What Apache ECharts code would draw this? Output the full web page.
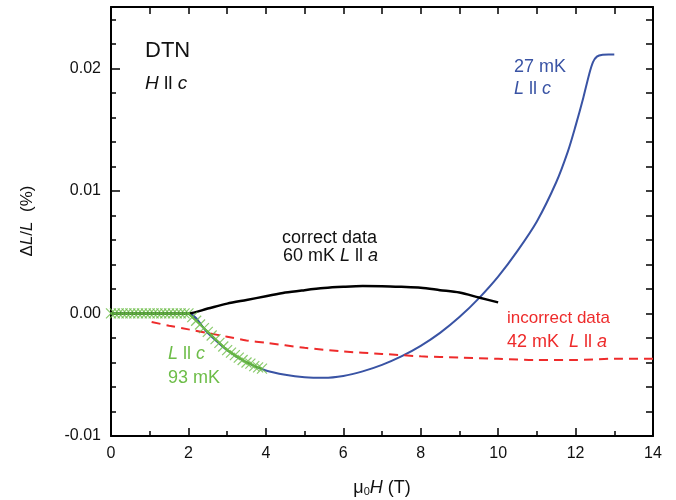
<!DOCTYPE html>
<html>
<head>
<meta charset="utf-8">
<script src="https://cdn.jsdelivr.net/npm/echarts@6/dist/echarts.min.js"></script>
<style>
  html, body { margin: 0; padding: 0; background: #fff; }
  #chart { width: 676px; height: 500px; }
</style>
</head>
<body>
<div id="chart"></div>
<script>
// values (field in T, dL/L in %)
const blueH  = [0, 1, 2, 2.5, 3, 3.5, 4, 4.5, 5, 5.5, 6, 6.5, 7, 7.5, 8, 8.5, 9, 9.5, 10, 10.5, 11, 11.5, 11.8, 12, 12.2, 12.35, 12.45, 12.55, 12.7, 12.85, 13];
const blueDL = [0, 0, 0, -0.0016, -0.0030, -0.0040, -0.00465, -0.0050, -0.0052, -0.00525, -0.0051, -0.00473, -0.0042, -0.00351, -0.00265, -0.00159, -0.0003, 0.00123, 0.0030, 0.0051, 0.0075, 0.0107, 0.0132, 0.0153, 0.0176, 0.0195, 0.0205, 0.02095, 0.0211, 0.02112, 0.02112];

const blackH  = [0, 1, 2, 2.5, 3, 3.5, 4, 4.5, 5, 5.5, 6, 6.5, 7, 7.5, 8, 8.5, 9, 9.5, 10];
const blackDL = [0, 0, 0, 0.0004, 0.0008, 0.0011, 0.0014, 0.0017, 0.0019, 0.00207, 0.00217, 0.00223, 0.00222, 0.00217, 0.0021, 0.0019, 0.0017, 0.0013, 0.0009];

const redH  = [1.05, 1.5, 2, 2.5, 3, 3.5, 4, 5, 6, 7, 8, 9, 10, 11, 12, 13, 14];
const redDL = [-0.0007, -0.0010, -0.0013, -0.0016, -0.0019, -0.0022, -0.0024, -0.0028, -0.0031, -0.0033, -0.0035, -0.0036, -0.0037, -0.0038, -0.0038, -0.0037, -0.0037];

const greenH  = [0, 0.1, 0.2, 0.3, 0.4, 0.5, 0.6, 0.7, 0.8, 0.9, 1.0, 1.1, 1.2, 1.3, 1.4, 1.5, 1.6, 1.7, 1.8, 1.9,
                 2.0, 2.1, 2.2, 2.3, 2.4, 2.5, 2.6, 2.7, 2.8, 2.9, 3.0, 3.1, 3.2, 3.3, 3.4, 3.5, 3.6, 3.7, 3.8, 3.9];
const greenDL = [0, 0, 0, 0, 0, 0, 0, 0, 0, 0, 0, 0, 0, 0, 0, 0, 0, 0, 0, 0,
                 0, -0.0003, -0.0006, -0.0009, -0.0012, -0.0015, -0.0018, -0.0021, -0.0024, -0.0027, -0.0030, -0.0032, -0.0034, -0.0036, -0.0038, -0.0040, -0.0041, -0.0043, -0.0044, -0.0045];

const xTicks = [0, 2, 4, 6, 8, 10, 12, 14];
const yTicks = [-0.01, 0.00, 0.01, 0.02];

const FONT = '"Liberation Sans", Arial, Helvetica, sans-serif';
const BLUE = '#3953a4';
const RED = '#ee2b2b';
const GREEN = '#6dbd48';
const GREEN_LINE = '#4f9b36';

const pairs = (xs, ys) => xs.map((x, i) => [x, ys[i]]);

const chart = echarts.init(document.getElementById('chart'));

const baseX = { type: 'value', min: 0, max: 14, gridIndex: 0 };
const baseY = { type: 'value', min: -0.01, max: 0.025, gridIndex: 0 };
const axLine = { show: true, onZero: false, lineStyle: { color: '#000', width: 2 } };
const noLine = { show: false, onZero: false };

chart.setOption({
  animation: false,
  backgroundColor: '#fff',
  grid: { left: 111, right: 23, top: 7, bottom: 64 },
  xAxis: [
    Object.assign({}, baseX, {
      position: 'bottom', interval: 2,
      axisLine: axLine,
      axisTick: { show: true, inside: true, length: 8, lineStyle: { color: '#000', width: 1.5 } },
      axisLabel: { fontFamily: FONT, fontSize: 16, color: '#111', margin: 10,
        formatter: v => xTicks.includes(v) ? String(v) : '' },
      splitLine: { show: false }
    }),
    Object.assign({}, baseX, {
      position: 'bottom', interval: 1,
      axisLine: noLine,
      axisTick: { show: true, inside: true, length: 5, lineStyle: { color: '#000', width: 1.5 } },
      axisLabel: { show: false },
      splitLine: { show: false }
    }),
    Object.assign({}, baseX, {
      position: 'top', interval: 1,
      axisLine: axLine,
      axisTick: { show: true, inside: true, length: 7, lineStyle: { color: '#000', width: 1.5 } },
      axisLabel: { show: false },
      splitLine: { show: false }
    })
  ],
  yAxis: [
    Object.assign({}, baseY, {
      position: 'left', interval: 0.01,
      axisLine: axLine,
      axisTick: { show: true, inside: true, length: 9, lineStyle: { color: '#000', width: 1.5 } },
      axisLabel: { fontFamily: FONT, fontSize: 16, color: '#111', margin: 10, showMaxLabel: false,
        formatter: v => {
          const hit = yTicks.find(t => Math.abs(t - v) < 1e-9);
          return hit === undefined ? '' : hit.toFixed(2);
        } },
      splitLine: { show: false }
    }),
    Object.assign({}, baseY, {
      position: 'left', interval: 0.002,
      axisLine: noLine,
      axisTick: { show: true, inside: true, length: 5, lineStyle: { color: '#000', width: 1.5 } },
      axisLabel: { show: false },
      splitLine: { show: false }
    }),
    Object.assign({}, baseY, {
      position: 'right', interval: 0.002,
      axisLine: axLine,
      axisTick: { show: true, inside: true, length: 7, lineStyle: { color: '#000', width: 1.5 } },
      axisLabel: { show: false },
      splitLine: { show: false }
    })
  ],
  series: [
    {
      name: '27 mK L||c', type: 'line', data: pairs(blueH, blueDL),
      smooth: 0.3, showSymbol: false, z: 2,
      lineStyle: { color: BLUE, width: 2 }
    },
    {
      name: '42 mK L||a', type: 'line', data: pairs(redH, redDL),
      smooth: 0.3, showSymbol: false, z: 3,
      lineStyle: { color: RED, width: 2, type: [9, 6] }
    },
    {
      name: '60 mK L||a', type: 'line', data: pairs(blackH, blackDL),
      smooth: 0.3, showSymbol: false, z: 4,
      lineStyle: { color: '#000', width: 2.5 }
    },
    {
      name: '93 mK L||c line', type: 'line', data: pairs(greenH, greenDL),
      showSymbol: false, z: 5,
      lineStyle: { color: GREEN_LINE, width: 2 }
    },
    {
      name: '93 mK L||c', type: 'scatter', data: pairs(greenH, greenDL),
      symbol: 'path://M0 0L10 10M10 0L0 10', symbolSize: 10, z: 6,
      itemStyle: { color: 'rgba(0,0,0,0)', borderColor: GREEN, borderWidth: 1.2 }
    }
  ],
  graphic: [
    { type: 'text', left: 145, top: 40,
      style: { text: 'DTN', font: '22px ' + FONT, fill: '#111' } },
    { type: 'text', left: 145, top: 74,
      style: { text: '{i|H} ll {i|c}', font: '19px ' + FONT, fill: '#111',
        rich: { i: { fontStyle: 'italic', fontSize: 19, fontFamily: FONT } } } },
    { type: 'text', left: 514, top: 58,
      style: { text: '27 mK', font: '18px ' + FONT, fill: BLUE } },
    { type: 'text', left: 514, top: 80,
      style: { text: '{i|L} ll {i|c}', font: '18px ' + FONT, fill: BLUE,
        rich: { i: { fontStyle: 'italic', fontSize: 18, fontFamily: FONT } } } },
    { type: 'text', left: 282, top: 229,
      style: { text: 'correct data', font: '18px ' + FONT, fill: '#111' } },
    { type: 'text', left: 283, top: 247,
      style: { text: '60 mK {i|L} ll {i|a}', font: '18px ' + FONT, fill: '#111',
        rich: { i: { fontStyle: 'italic', fontSize: 18, fontFamily: FONT } } } },
    { type: 'text', left: 507, top: 310,
      style: { text: 'incorrect data', font: '17px ' + FONT, fill: RED } },
    { type: 'text', left: 507, top: 333,
      style: { text: '42 mK  {i|L} ll {i|a}', font: '18px ' + FONT, fill: RED,
        rich: { i: { fontStyle: 'italic', fontSize: 18, fontFamily: FONT } } } },
    { type: 'text', left: 168, top: 345,
      style: { text: '{i|L} ll {i|c}', font: '18px ' + FONT, fill: GREEN,
        rich: { i: { fontStyle: 'italic', fontSize: 18, fontFamily: FONT } } } },
    { type: 'text', left: 168, top: 369,
      style: { text: '93 mK', font: '18px ' + FONT, fill: GREEN } },
    { type: 'text', x: 27, y: 221, rotation: Math.PI / 2,
      style: { text: 'Δ{i|L}/{i|L}  (%)', font: '17px ' + FONT, fill: '#111',
        align: 'center', verticalAlign: 'middle',
        rich: { i: { fontStyle: 'italic', fontSize: 17, fontFamily: FONT } } } },
    { type: 'text', x: 382, y: 488,
      style: { text: 'μ{s|0}{i|H} (T)', font: '18px ' + FONT, fill: '#111',
        align: 'center', verticalAlign: 'middle',
        rich: { s: { fontSize: 11, fontFamily: FONT, padding: [8, 0, 0, 0] },
                i: { fontStyle: 'italic', fontSize: 18, fontFamily: FONT } } } }
  ]
});
</script>
</body>
</html>
